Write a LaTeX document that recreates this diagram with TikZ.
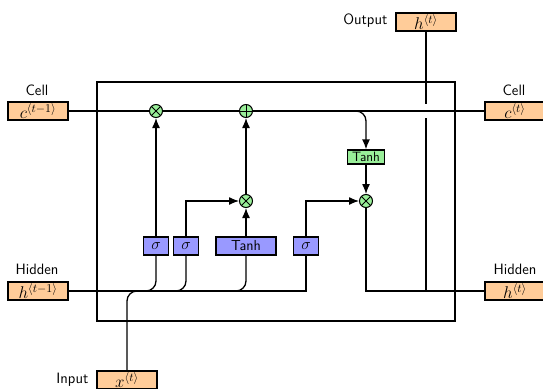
\RequirePackage{fix-cm}
\documentclass[tikz,border=0pt]{standalone}
\usetikzlibrary{arrows.meta,backgrounds}
\definecolor{inbox}{HTML}{FFCC99}
\definecolor{gatec}{HTML}{9999FF}
\definecolor{opc}{HTML}{99EE99}
\begin{document}
\begin{tikzpicture}[x=1pt,y=-1pt, line width=1.3pt,
  >={Latex[length=10pt,width=8pt]},
  conn/.style={line width=1.3pt},
  io/.style={draw, fill=inbox, minimum width=60pt, minimum height=18pt, inner sep=0pt, font=\fontsize{17}{17}\selectfont},
  gatebox/.style={draw, fill=gatec, minimum width=25pt, minimum height=18pt, inner sep=0pt, font=\fontsize{16}{16}\selectfont},
  tanhp/.style={gatebox, minimum width=60pt, font=\fontsize{14.5}{14.5}\selectfont\sffamily},
  tanhg/.style={draw, fill=opc, minimum width=37pt, minimum height=14pt, inner sep=0pt, font=\fontsize{13.5}{13.5}\selectfont\sffamily},
  opbase/.style={draw, circle, fill=opc, minimum size=13pt, inner sep=0pt, line width=1pt},
  optimes/.style={opbase, path picture={\draw[line width=0.8pt] (path picture bounding box.north west) -- (path picture bounding box.south east) (path picture bounding box.north east) -- (path picture bounding box.south west);}},
  opplus/.style={opbase, path picture={\draw[line width=0.8pt] (path picture bounding box.north) -- (path picture bounding box.south) (path picture bounding box.west) -- (path picture bounding box.east);}},
  lbl/.style={font=\sffamily\fontsize{15}{15}\selectfont, inner sep=0pt},
]
\useasboundingbox (0,0) rectangle (543,388);

% inputs / outputs
\node[io] (cin)  at (38,111) {$c^{\langle t-1\rangle}$};
\node[io] (hin)  at (38,291) {$h^{\langle t-1\rangle}$};
\node[io] (cout) at (515,111) {$c^{\langle t\rangle}$};
\node[io] (hout) at (515,291) {$h^{\langle t\rangle}$};
\node[io] (otop) at (426,22) {$h^{\langle t\rangle}$};
\node[io] (xin)  at (127,380) {$x^{\langle t\rangle}$};

\node[lbl] (lc1) at (37,90) {Cell};
\node[lbl] (lh1) at (37,269) {Hidden};
\node[lbl] (lc2) at (514,90) {Cell};
\node[lbl] (lh2) at (515,269) {Hidden};
\node[lbl, anchor=east] (lo) at (388,21) {Output};
\node[lbl, anchor=east] (li) at (89,380) {Input};

% operators
\node[optimes] (t1) at (156,111) {};
\node[opplus]  (p1) at (246,111) {};
\node[optimes] (t2) at (246,201) {};
\node[optimes] (t3) at (366,201) {};

% gates
\node[gatebox] (s1) at (156,246) {$\sigma$};
\node[gatebox] (s2) at (186,246) {$\sigma$};
\node[tanhp]   (tp) at (246,246) {Tanh};
\node[gatebox] (s3) at (306,246) {$\sigma$};
\node[tanhg]   (tg) at (366,157) {Tanh};

\coordinate (yT) at (0,104);
\coordinate (yB) at (0,118);
\coordinate (gapT) at (otop.south |- yT);
\coordinate (gapB) at (otop.south |- yB);

\begin{pgfonlayer}{background}
\begin{scope}[conn]
  \draw (97,82) rectangle (455,321);
  % cell state
  \draw (cin.east) -- (cout.west);
  \draw[->, rounded corners=10pt] (p1.east) -| (tg.north);
  % output line with a gap
  \draw (otop.south) -- (gapT);
  \draw (gapB) -- (gapB |- hout.west);
  % gate arrows
  \draw[->] (s1.north) -- (t1.south);
  \draw[->] (t2.north) -- (p1.south);
  \draw[->] (s2.north) |- (t2.west);
  \draw[->] (tp.north) -- (t2.south);
  \draw[->] (s3.north) |- (t3.west);
  \draw[->] (tg.south) -- (t3.north);
  \draw (t3.south) |- (hout.west);
  % hidden input
  \draw (hin.east) -| (s3.south);
  \draw[rounded corners=10pt] (hin.east) -| (s1.south);
  \draw[rounded corners=10pt] (hin.east) -| (s2.south);
  \draw[rounded corners=10pt] (hin.east) -| (tp.south);
  \draw[rounded corners=10pt] (xin.north) |- (s1.south |- hin.east);
\end{scope}
\end{pgfonlayer}
\end{tikzpicture}
\end{document}
